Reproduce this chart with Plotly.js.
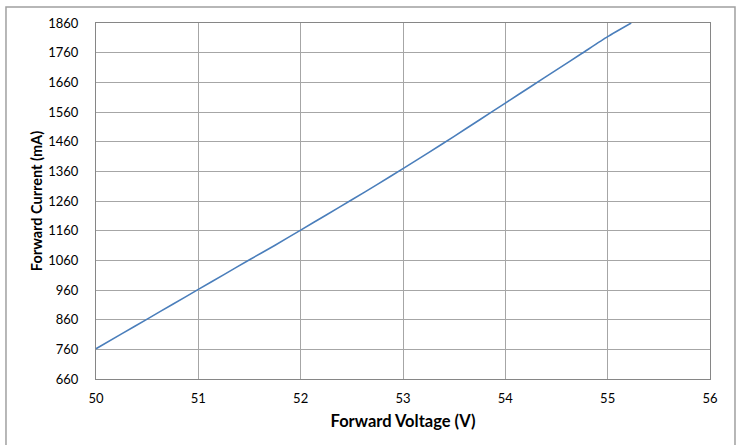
<!DOCTYPE html>
<html>
<head>
<meta charset="utf-8">
<script src="https://cdn.plot.ly/plotly-3.0.1.min.js"></script>
<style>html,body{margin:0;padding:0;background:#fff;}#chart{width:743px;height:445px;}</style>
</head>
<body>
<div id="chart"></div>
<script>
var voltage = [50.0, 50.25, 50.5, 50.75, 51.0, 51.25, 51.5, 51.75, 52.0, 52.25, 52.5, 52.75, 53.0, 53.25, 53.5, 53.75, 54.0, 54.25, 54.5, 54.75, 55.0, 55.23];
var current = [762, 812, 862, 912, 962, 1012, 1062, 1111, 1162, 1213, 1264, 1316, 1369, 1423, 1478, 1534, 1590, 1646, 1702, 1758, 1814, 1860];
var xTitle = 'Forward Voltage (V)';
var yTitle = 'Forward Current (mA)';

var font = 'Lato, "Open Sans", "Liberation Sans", sans-serif';
var trace = {
  x: voltage, y: current, type: 'scatter', mode: 'lines',
  line: {color: '#4a7ebb', width: 1.6, shape: 'spline', smoothing: 0.6},
  hoverinfo: 'skip', cliponaxis: true
};
var layout = {
  width: 743, height: 445,
  margin: {l: 96, r: 33, t: 23, b: 66},
  paper_bgcolor: '#ffffff', plot_bgcolor: '#ffffff',
  showlegend: false,
  font: {family: font, size: 13, color: '#000'},
  xaxis: {
    range: [50, 56], tick0: 50, dtick: 1, ticks: '',
    showgrid: true, gridcolor: '#a6a6a6', gridwidth: 1,
    showline: true, mirror: true, linecolor: '#868686', linewidth: 1,
    zeroline: false, ticklabelstandoff: 7,
    tickfont: {family: font, size: 13, color: '#000'},
    title: {text: xTitle, font: {family: font, size: 16.5, color: '#000', weight: 'bold'}, standoff: 10}
  },
  yaxis: {
    range: [660, 1860], tick0: 660, dtick: 100, ticks: '',
    showgrid: true, gridcolor: '#a6a6a6', gridwidth: 1,
    showline: true, mirror: true, linecolor: '#868686', linewidth: 1,
    zeroline: false, ticklabelstandoff: 14,
    tickfont: {family: font, size: 13, color: '#000'},
    title: {text: yTitle, font: {family: font, size: 14.5, color: '#000', weight: 'bold'}, standoff: 2}
  },
  shapes: [{
    type: 'rect', xref: 'paper', yref: 'paper',
    x0: -0.1466, x1: 1.0407, y0: -0.25, y1: 1.045,
    line: {color: '#a0a0a0', width: 1.5}, fillcolor: 'rgba(0,0,0,0)', layer: 'below'
  }]
};
Plotly.newPlot('chart', [trace], layout, {staticPlot: true, displayModeBar: false});
</script>
</body>
</html>
